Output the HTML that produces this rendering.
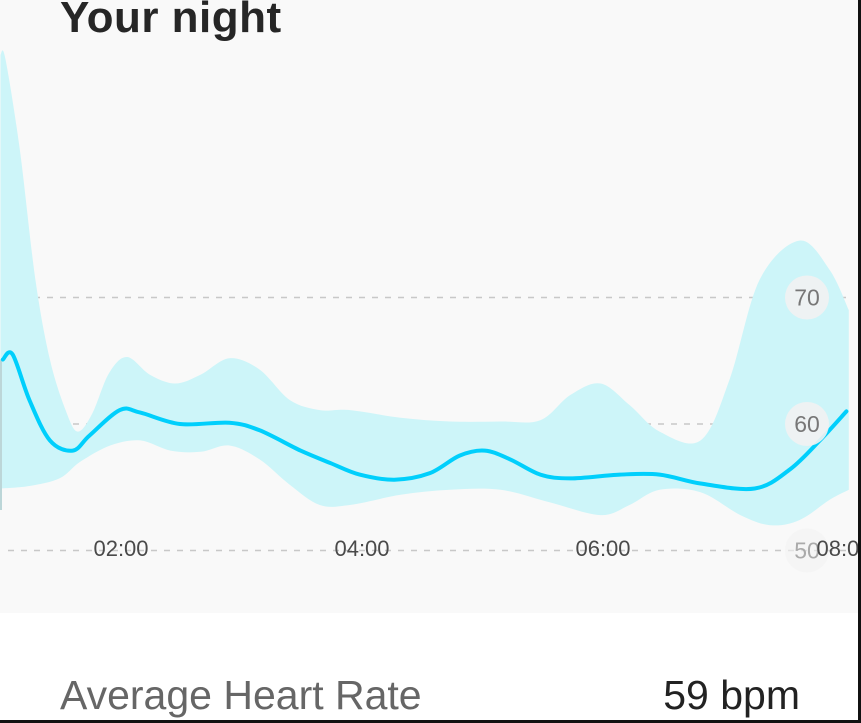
<!DOCTYPE html>
<html><head><meta charset="utf-8"><style>
html,body{margin:0;padding:0;width:861px;height:723px;overflow:hidden;background:#fff;font-family:"Liberation Sans",sans-serif}
#wrap{position:absolute;left:0;top:0;width:858px;height:720px;border-right:3px solid #111;border-bottom:3px solid #111;background:#fff}
#card{position:absolute;left:0;top:0;width:858px;height:613px;background:#f9f9f9}
#title{position:absolute;left:60px;top:-7px;font-size:44px;font-weight:bold;color:#262626;letter-spacing:0.5px}
#avg{position:absolute;left:60px;top:672px;font-size:41px;color:#666}
#val{position:absolute;right:58px;top:672px;font-size:41px;color:#222}
svg{position:absolute;left:0;top:0}
</style></head><body>
<div id="wrap">
<div id="card"></div>
<svg id="chart" width="858" height="613"></svg>
<div id="title">Your night</div>
<div id="avg">Average Heart Rate</div>
<div id="val">59 bpm</div>
</div>
<script>
const lineHours=[1.02,1.10,1.24,1.41,1.60,1.74,1.99,2.16,2.49,2.90,3.15,3.49,3.74,3.98,4.27,4.56,4.81,5.02,5.23,5.48,5.73,6.14,6.47,6.81,7.26,7.55,7.80,8.02];
const lineBpm=[65.1,65.5,61.9,58.7,57.9,59.1,61.1,60.9,60.0,60.1,59.5,57.9,56.9,56.0,55.6,56.1,57.5,57.9,57.2,56.0,55.7,56.0,56.0,55.3,54.9,56.4,58.7,61.0];
const upperHours=[1.00,1.04,1.16,1.29,1.41,1.54,1.64,1.76,1.90,2.05,2.24,2.45,2.66,2.90,3.15,3.40,3.65,3.90,4.32,4.73,5.15,5.48,5.73,5.98,6.22,6.47,6.81,7.05,7.30,7.63,7.88,8.04];
const upperBpm=[89.2,88.9,81.7,71.4,65.1,61.1,59.4,60.8,64.0,65.3,63.9,63.2,63.9,65.2,64.3,61.9,61.1,61.1,60.5,60.2,60.2,60.3,62.3,63.2,61.5,59.4,58.7,63.5,71.4,74.5,72.2,69.0];
const lowerHours=[1.00,1.24,1.49,1.66,1.91,2.16,2.41,2.66,2.90,3.15,3.40,3.65,3.90,4.32,4.73,5.15,5.56,5.98,6.22,6.47,6.81,7.14,7.39,7.63,7.88,8.04];
const lowerBpm=[54.9,55.1,55.7,57.0,58.3,58.7,57.9,57.8,58.3,57.2,55.2,53.6,53.6,54.4,54.8,54.8,53.8,52.8,53.6,54.8,54.6,52.8,52.0,52.4,54.0,54.8];
const xTicks=[2,4,6,8];
const xTickLabels=["02:00","04:00","06:00","08:00"];
const yTicks=[70,60,50];

const NS="http://www.w3.org/2000/svg";
const svg=document.getElementById('chart');
function xs(h){return 121+(h-2)*120.5;}
function ys(v){return 424-(v-60)*12.65;}
function mk(t,a){const e=document.createElementNS(NS,t);for(const k in a)e.setAttribute(k,a[k]);svg.appendChild(e);return e;}
function smooth(pts,start){
  let d=start?'M':'L';d+=pts[0][0].toFixed(1)+','+pts[0][1].toFixed(1);
  for(let i=0;i<pts.length-1;i++){
    const p0=pts[i-1]||pts[i],p1=pts[i],p2=pts[i+1],p3=pts[i+2]||p2;
    const c1=[p1[0]+(p2[0]-p0[0])/6,p1[1]+(p2[1]-p0[1])/6];
    const c2=[p2[0]-(p3[0]-p1[0])/6,p2[1]-(p3[1]-p1[1])/6];
    d+=' C'+c1[0].toFixed(1)+','+c1[1].toFixed(1)+' '+c2[0].toFixed(1)+','+c2[1].toFixed(1)+' '+p2[0].toFixed(1)+','+p2[1].toFixed(1);
  }
  return d;
}
yTicks.forEach(v=>{
  const g=mk('line',{x1:8,x2:850,y1:ys(v),y2:ys(v),stroke:'#c8c8c8','stroke-width':1.5,'stroke-dasharray':'6,7'});
  
  
});
const up=upperHours.map((h,i)=>[xs(h),ys(upperBpm[i])]);
const lo=lowerHours.map((h,i)=>[xs(h),ys(lowerBpm[i])]).reverse();
const band=mk('path',{d:smooth(up,true)+' '+'L'+lo[0][0]+','+lo[0][1]+' '+smooth(lo,false).slice(1).replace(/^[^C]*/,'')+' Z',fill:'#cdf5f9'});


const el=mk('line',{x1:1,x2:1,y1:ys(lineBpm[0]),y2:510,stroke:'#bcd6d8','stroke-width':2});


const lp=lineHours.map((h,i)=>[xs(h),ys(lineBpm[i])]);
const line=mk('path',{d:smooth(lp,true),fill:'none',stroke:'#00cffc','stroke-width':4,'stroke-linecap':'round'});


yTicks.forEach(v=>{
  const c=mk('circle',{cx:807,cy:ys(v),r:22,fill:'#f2f2f2',opacity:v===50?0.6:0.9});
  
  
  const t=mk('text',{x:807,y:ys(v)+8,'text-anchor':'middle','font-size':23,fill:v===50?'#aaa':'#777','font-family':'Liberation Sans, sans-serif'});
  t.textContent=String(v);
  
  
});
xTicks.forEach((h,i)=>{
  const t=mk('text',{x:xs(h),y:556,'text-anchor':'middle','font-size':22,fill:'#4a4a4a','font-family':'Liberation Sans, sans-serif'});
  t.textContent=xTickLabels[i];
  
  
});
</script>
</body></html>
